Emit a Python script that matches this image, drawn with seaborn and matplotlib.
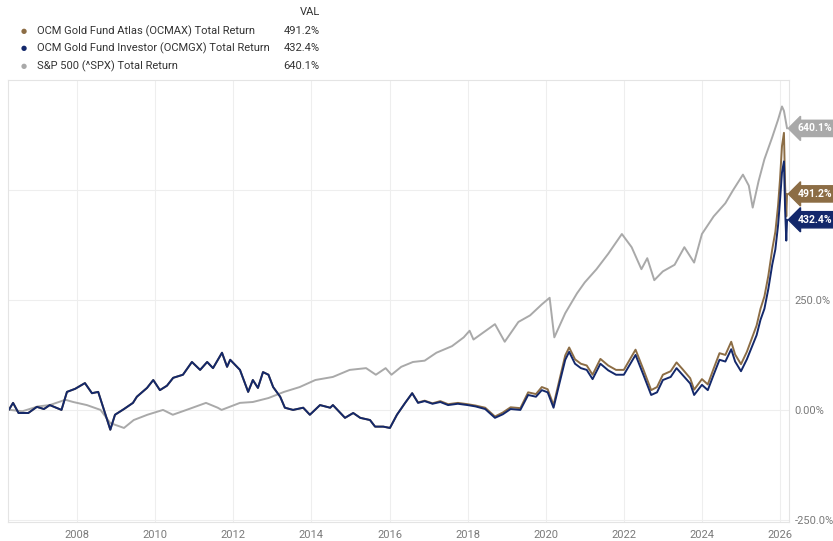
import matplotlib.pyplot as plt
import matplotlib.transforms as mtransforms
import pandas as pd
import seaborn as sns

# S&P 500 total return (%)
spx_t = [2006.28, 2006.6, 2007.0, 2007.3, 2007.7, 2007.9, 2008.25, 2008.6, 2008.85, 2009.2,
         2009.45, 2009.8, 2010.2, 2010.45, 2010.8, 2011.3, 2011.6, 2011.7, 2012.17, 2012.5,
         2012.9, 2013.3, 2013.7, 2014.1, 2014.55, 2014.98, 2015.4, 2015.65, 2015.9, 2016.05,
         2016.3, 2016.6, 2016.9, 2017.2, 2017.6, 2017.9, 2018.05, 2018.15, 2018.7, 2018.95,
         2019.3, 2019.6, 2019.9, 2020.1, 2020.22, 2020.5, 2020.8, 2021.0, 2021.3, 2021.6,
         2021.95, 2022.2, 2022.45, 2022.6, 2022.78, 2023.0, 2023.3, 2023.55, 2023.8, 2024.0,
         2024.3, 2024.6, 2024.8, 2025.05, 2025.2, 2025.3, 2025.45, 2025.6, 2025.8, 2025.95,
         2026.05, 2026.1, 2026.18]
spx_v = [0, -3, 8, 11, 23, 18, 11, 0, -30, -41,
         -23, -11, 0, -11, 0, 16, 5, 0, 16, 18,
         27, 41, 52, 68, 75, 91, 95, 80, 95, 80,
         98, 109, 112, 130, 145, 165, 180, 160, 195, 155,
         200, 215, 240, 255, 165, 220, 265, 290, 320, 355,
         400, 370, 320, 345, 295, 315, 330, 370, 335, 400,
         440, 470, 500, 535, 510, 460, 520, 570, 620, 660,
         690, 680, 640.1]

# OCM Gold Fund Investor (OCMGX) and Atlas (OCMAX) total return (%)
fund_t = [2006.25, 2006.36, 2006.5, 2006.75, 2006.97, 2007.15, 2007.3, 2007.6, 2007.74, 2007.95,
          2008.2, 2008.38, 2008.54, 2008.67, 2008.85, 2008.97, 2009.2, 2009.43, 2009.53, 2009.79,
          2009.95, 2010.12, 2010.3, 2010.46, 2010.71, 2010.94, 2011.15, 2011.33, 2011.48, 2011.71,
          2011.84, 2011.92, 2012.17, 2012.38, 2012.5, 2012.63, 2012.76, 2012.9, 2013.02, 2013.2,
          2013.32, 2013.53, 2013.79, 2013.96, 2014.22, 2014.48, 2014.55, 2014.86, 2015.07, 2015.25,
          2015.5, 2015.63, 2015.84, 2016.01, 2016.19, 2016.4, 2016.58, 2016.73, 2016.9, 2017.1,
          2017.3, 2017.5, 2017.75, 2018.0, 2018.2, 2018.45, 2018.7, 2018.9, 2019.1, 2019.35,
          2019.55, 2019.75, 2019.9, 2020.05, 2020.2, 2020.35, 2020.5, 2020.6, 2020.75, 2020.9,
          2021.05, 2021.2, 2021.4, 2021.6, 2021.8, 2022.0, 2022.3, 2022.5, 2022.7, 2022.85,
          2023.0, 2023.2, 2023.35, 2023.5, 2023.7, 2023.8, 2024.0, 2024.15, 2024.3, 2024.45,
          2024.6, 2024.75, 2024.85, 2025.0, 2025.15, 2025.3, 2025.4, 2025.5, 2025.6, 2025.7,
          2025.8, 2025.88, 2025.95, 2026.0, 2026.05, 2026.1, 2026.13, 2026.16, 2026.18]
ocmgx_v = [0, 16, -7, -7, 7, 2, 11, 0, 41, 48,
           61, 38, 41, 5, -45, -11, 2, 16, 30, 50,
           68, 45, 55, 73, 80, 109, 91, 109, 95, 130,
           98, 114, 91, 41, 68, 50, 86, 80, 52, 30,
           5, 0, 5, -11, 11, 5, 11, -18, -7, -18,
           -23, -38, -38, -41, -11, 16, 38, 16, 20, 14,
           18, 11, 14, 11, 8, 2, -18, -10, 2, 0,
           34, 30, 45, 40, 5, 60, 114, 132, 105, 95,
           91, 70, 105, 90, 80, 80, 125, 80, 34, 40,
           68, 75, 95, 80, 60, 34, 57, 45, 80, 114,
           110, 138, 110, 88, 115, 148, 170, 205, 230, 275,
           330, 365, 420, 477, 540, 565, 455, 385, 432.4]
ocmax_v = [0, 16, -7, -7, 7, 2, 11, 0, 41, 48,
           61, 38, 41, 5, -45, -11, 2, 16, 30, 50,
           68, 45, 55, 73, 80, 109, 91, 109, 95, 130,
           98, 114, 91, 41, 68, 50, 86, 80, 52, 30,
           5, 0, 5, -11, 11, 5, 11, -18, -7, -18,
           -23, -38, -38, -41, -11, 16, 38, 17, 21, 15,
           20, 13, 16, 13, 10, 5, -15, -6, 6, 4,
           40, 36, 52, 47, 11, 68, 124, 142, 115, 105,
           101, 80, 116, 101, 91, 91, 137, 92, 45, 52,
           80, 88, 108, 93, 72, 46, 70, 58, 94, 129,
           125, 155, 126, 104, 132, 168, 192, 230, 258, 305,
           365, 405, 465, 525, 600, 630, 510, 440, 491.2]

legend_names = ["OCM Gold Fund Atlas (OCMAX) Total Return",
                "OCM Gold Fund Investor (OCMGX) Total Return",
                "S&P 500 (^SPX) Total Return"]
legend_vals = ["491.2%", "432.4%", "640.1%"]
colors = ["#8c6d45", "#13286b", "#a9a9a9"]

df = pd.concat([
    pd.DataFrame({"t": spx_t, "v": spx_v, "s": "spx"}),
    pd.DataFrame({"t": fund_t, "v": ocmax_v, "s": "ocmax"}),
    pd.DataFrame({"t": fund_t, "v": ocmgx_v, "s": "ocmgx"}),
])

sns.set_theme(style="white")
plt.rcParams["font.family"] = ["Roboto", "DejaVu Sans"]

fig = plt.figure(figsize=(8.33, 5.41), dpi=100)
ax = fig.add_axes([0.0096, 0.035, 0.9376, 0.817])

sns.lineplot(data=df, x="t", y="v", hue="s", sort=False, estimator=None,
             palette={"spx": colors[2], "ocmax": colors[0], "ocmgx": colors[1]},
             linewidth=1.4, legend=False, ax=ax)

ax.set_xlim(2006.23, 2026.23)
ax.set_ylim(-255, 750)
ax.set_xticks(range(2008, 2027, 2))
ax.set_yticks([-250, 0, 250, 500])
ax.set_yticklabels(["-250.0%", "0.00%", "250.0%", "500.0%"])
ax.yaxis.tick_right()
ax.tick_params(axis="both", length=0, labelsize=8, labelcolor="#7a7a7a", pad=4)
ax.tick_params(axis="x", pad=6)
ax.set_xlabel("")
ax.set_ylabel("")
ax.grid(True, color="#eeeeee", linewidth=0.8)
ax.set_axisbelow(True)
for sp in ax.spines.values():
    sp.set_color("#e4e4e4")
    sp.set_linewidth(0.8)

# value tags on the right edge
trans = mtransforms.blended_transform_factory(ax.transAxes, ax.transData)
for val, txt, col in [(640.1, "640.1%", colors[2]), (491.2, "491.2%", colors[0]),
                      (432.4, "432.4%", colors[1])]:
    ax.annotate(txt, xy=(1.0, val), xycoords=trans, xytext=(6, 0),
                textcoords="offset points", va="center", ha="left",
                fontsize=7.5, fontweight="bold", color="white", annotation_clip=False,
                zorder=5, bbox=dict(boxstyle="larrow,pad=0.3", fc=col, ec=col))

# legend block at the top
fig.text(0.384, 0.977, "VAL", ha="right", va="center", fontsize=8, color="#333333")
for i, (name, val, col) in enumerate(zip(legend_names, legend_vals, colors)):
    y = 0.943 - i * 0.0325
    fig.text(0.029, y, "\u25cf", ha="center", va="center", fontsize=5, color=col,
             family="DejaVu Sans")
    fig.text(0.045, y, name, ha="left", va="center", fontsize=8, color="#333333")
    fig.text(0.384, y, val, ha="right", va="center", fontsize=8, color="#333333")

fig.savefig("out.png", dpi=100)
